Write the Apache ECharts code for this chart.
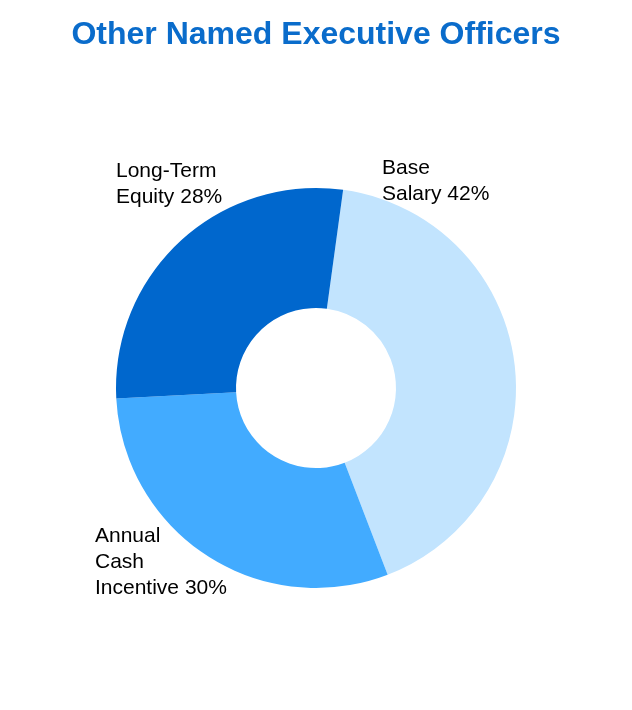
<!DOCTYPE html>
<html>
<head>
<meta charset="utf-8">
<style>
  html, body { margin: 0; padding: 0; background: #fff; }
  #chart { width: 632px; height: 710px; }
</style>
<script src="https://cdn.jsdelivr.net/npm/echarts@6/dist/echarts.min.js"></script>
</head>
<body>
<div id="chart"></div>
<script>
// data
const categories = ['Base\nSalary', 'Annual\nCash\nIncentive', 'Long-Term\nEquity'];
const shares = [42, 30, 28];
const colors = ['#c2e4fe', '#42abff', '#0067cd'];

// label anchor points (top-left of each text block)
const labelSpots = [[382, 155], [95, 523], [116, 158]];

const chart = echarts.init(document.getElementById('chart'));
chart.setOption({
  animation: false,
  title: {
    text: 'Other Named Executive Officers',
    left: 'center',
    top: 14,
    textStyle: {
      fontFamily: 'Liberation Sans',
      fontSize: 32,
      fontWeight: 'bold',
      color: '#0a6ccb'
    }
  },
  series: [
    {
      type: 'pie',
      center: [316, 388],
      radius: [80, 200],
      startAngle: 82.2,
      clockwise: true,
      data: categories.map((name, i) => ({
        name: name,
        value: shares[i],
        itemStyle: { color: colors[i] }
      })),
      label: {
        show: true,
        position: 'outside',
        formatter: '{b} {c}%',
        fontFamily: 'Liberation Sans',
        fontSize: 21,
        lineHeight: 26,
        color: '#000',
        align: 'left',
        overflow: 'none'
      },
      labelLine: { show: false },
      labelLayout: function (params) {
        const p = labelSpots[params.dataIndex];
        return { x: p[0], y: p[1], align: 'left', verticalAlign: 'top' };
      },
      emphasis: { disabled: true }
    }
  ]
});
</script>
</body>
</html>
